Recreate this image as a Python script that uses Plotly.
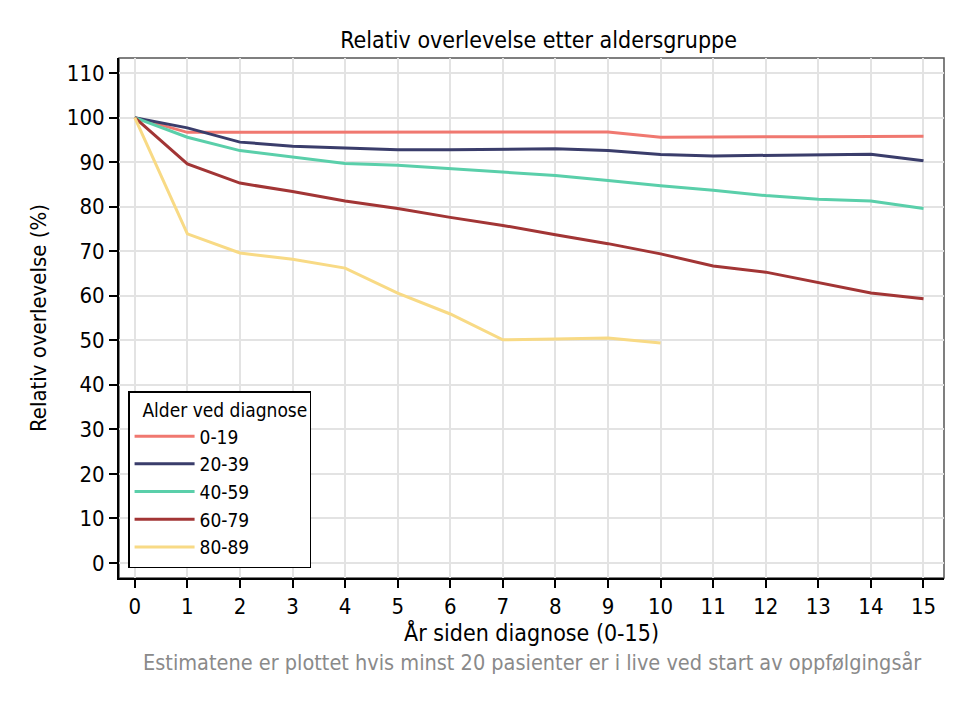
import plotly.graph_objects as go

# år siden diagnose
years = list(range(0, 16))

age_groups = ["0-19", "20-39", "40-59", "60-79", "80-89"]

surv_0_19 = [100, 96.7, 96.7, 96.7, 96.7, 96.7, 96.7, 96.8, 96.8, 96.8, 95.6, 95.7, 95.7, 95.7, 95.8, 95.8]
surv_20_39 = [100, 97.7, 94.5, 93.6, 93.2, 92.8, 92.8, 92.9, 93.0, 92.6, 91.7, 91.4, 91.5, 91.7, 91.8, 90.3]
surv_40_59 = [100, 95.6, 92.6, 91.1, 89.7, 89.3, 88.5, 87.7, 87.0, 85.9, 84.7, 83.7, 82.5, 81.7, 81.3, 79.6]
surv_60_79 = [100, 89.6, 85.3, 83.4, 81.3, 79.6, 77.6, 75.8, 73.7, 71.7, 69.4, 66.7, 65.3, 63.0, 60.6, 59.3]
surv_80_89 = [100, 73.9, 69.6, 68.2, 66.2, 60.6, 55.9, 50.1, 50.3, 50.5, 49.4]

colors = ["#F07870", "#3A3D6B", "#5ACFAA", "#A23535", "#F8DA85"]
series = [surv_0_19, surv_20_39, surv_40_59, surv_60_79, surv_80_89]

FONT = "Liberation Sans Narrow, DejaVu Sans Condensed, Roboto, sans-serif"

fig = go.Figure()
for name, vals, col in zip(age_groups, series, colors):
    fig.add_trace(go.Scatter(x=years[:len(vals)], y=vals, mode="lines", name=name,
                             line=dict(color=col, width=3)))

# body har 8px marg i html-siden, derfor l/t 8 mindre
fig.update_layout(
    width=970, height=705,
    margin=dict(l=111, r=34, t=50, b=135, autoexpand=False),
    paper_bgcolor="white", plot_bgcolor="white",
    font=dict(family=FONT, size=21, color="black"),
    title=dict(text="Relativ overlevelse etter aldersgruppe", x=0.547, xanchor="center",
               y=0.955, yanchor="middle", font=dict(size=23), automargin=False),
    legend=dict(title=dict(text="  Alder ved diagnose", font=dict(size=19)),
                x=0.011, y=0.019, xanchor="left", yanchor="bottom",
                bordercolor="black", borderwidth=1.5, bgcolor="white",
                font=dict(size=19), itemwidth=60, tracegroupgap=0),
    showlegend=True,
)

fig.update_xaxes(range=[-0.3, 15.39], tickmode="array", tickvals=years,
                 showgrid=True, gridcolor="#e3e3e3", gridwidth=2, zeroline=False,
                 showline=True, linecolor="black", linewidth=2,
                 ticks="outside", ticklen=8, tickwidth=2, tickcolor="black",
                 tickfont=dict(size=22), automargin=False,
                 title=dict(text="År siden diagnose (0-15)", standoff=0, font=dict(size=23)))
fig.update_yaxes(range=[-3.4, 113.4], tickmode="array", tickvals=list(range(0, 111, 10)),
                 showgrid=True, gridcolor="#e3e3e3", gridwidth=2, zeroline=False,
                 showline=True, linecolor="black", linewidth=2,
                 ticks="outside", ticklen=8, tickwidth=2, tickcolor="black",
                 tickfont=dict(size=22), automargin=False,
                 title=dict(text="Relativ overlevelse (%)", standoff=14, font=dict(size=22)))

# ramme topp/høyre
fig.add_shape(type="rect", xref="paper", yref="paper", x0=0, y0=0, x1=1, y1=1,
              line=dict(color="#555555", width=1.5), layer="below")

fig.add_annotation(text="Estimatene er plottet hvis minst 20 pasienter er i live ved start av oppfølgingsår",
                   xref="paper", yref="paper", x=0.5, y=-0.163, xanchor="center", yanchor="middle",
                   showarrow=False, font=dict(size=21.5, color="#8a8a8a"))

fig.write_html("out.html")
